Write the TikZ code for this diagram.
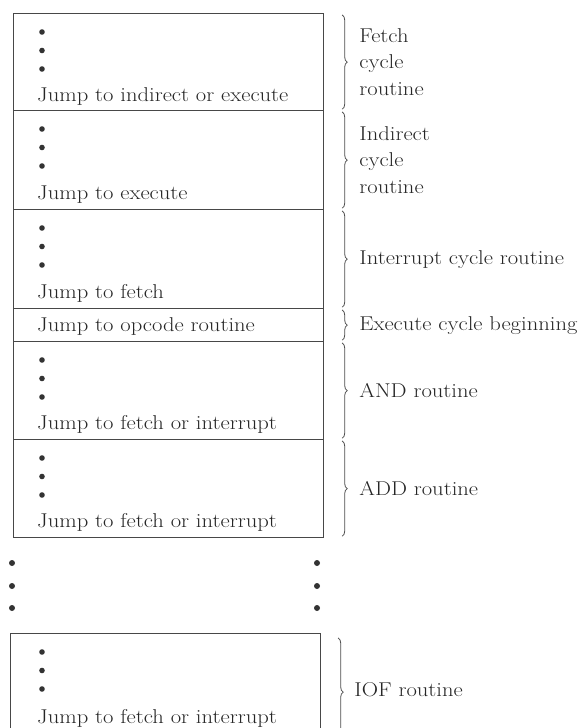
\documentclass[tikz,border=0pt]{standalone}
\usetikzlibrary{decorations.pathreplacing}
\newcommand\hstr[1]{\scalebox{1.13}[1]{#1}}
\begin{document}
\begin{tikzpicture}[x=1pt,y=-1pt,
  box/.style={draw=black!72, line width=1.2pt, anchor=north west, inner sep=0pt, minimum width=310pt},
  jmp/.style={anchor=base west, inner sep=0pt, font=\fontsize{20}{22}\selectfont, text=black!85},
  lbl/.style={anchor=west, inner sep=0pt, align=left, font=\fontsize{20}{26.5}\selectfont, text=black!85},
  brc/.style={draw=black!70, line width=0.8pt, decorate, decoration={brace, amplitude=5pt, aspect=0.5}},
  dotf/.style={fill=black!80}]
\useasboundingbox (0,0) rectangle (587,728);
\clip (0,0) rectangle (587,728);
% boxes
\node[box, minimum height=97pt] (fetch) at (13,13) {};
\node[box, minimum height=99pt] (indir) at (13,110) {};
\node[box, minimum height=99pt] (intr) at (13,209) {};
\node[box, minimum height=33pt] (exec) at (13,308) {};
\node[box, minimum height=98pt] (andr) at (13,341) {};
\node[box, minimum height=98pt] (addr) at (13,439) {};
\node[box, minimum height=100pt] (iof) at (10,633) {};
% dots and texts inside
\foreach \n/\t in {fetch/13, indir/110, intr/209, andr/341, addr/439, iof/633}{
  \foreach \d in {19,37.5,56}{\fill[dotf] (42,\t+\d) circle (2.8);}
}
\node[jmp] (tfetch) at (37,101) {\hstr{Jump to indirect or execute}};
\node[jmp] (tindir) at (37,199) {\hstr{Jump to execute}};
\node[jmp] (tintr) at (37,298) {\hstr{Jump to fetch}};
\node[jmp] (texec) at (37,331) {\hstr{Jump to opcode routine}};
\node[jmp] (tand) at (37,429) {\hstr{Jump to fetch or interrupt}};
\node[jmp] (tadd) at (37,527) {\hstr{Jump to fetch or interrupt}};
\node[jmp] (tiof) at (37,723) {\hstr{Jump to fetch or interrupt}};
% dots between
\foreach \y in {563,586,608}{\fill[dotf] (12,\y) circle (3); \fill[dotf] (317,\y) circle (3);}
% braces
\draw[brc] ([shift={(18,2)}]fetch.north east) -- ([shift={(18,-2)}]fetch.south east);
\draw[brc] ([shift={(18,2)}]indir.north east) -- ([shift={(18,-2)}]indir.south east);
\draw[brc] ([shift={(18,2)}]intr.north east) -- ([shift={(18,-2)}]intr.south east);
\draw[brc] ([shift={(18,2)}]exec.north east) -- ([shift={(18,-2)}]exec.south east);
\draw[brc] ([shift={(18,2)}]andr.north east) -- ([shift={(18,-2)}]andr.south east);
\draw[brc] ([shift={(18,2)}]addr.north east) -- ([shift={(18,-2)}]addr.south east);
\draw[brc] ([shift={(17,5)}]iof.north east) -- ([shift={(17,12)}]iof.south east);
% labels
\node[lbl] (lfetch) at ([xshift=35pt]fetch.east) {\hstr{Fetch}\\\hstr{cycle}\\\hstr{routine}};
\node[lbl] (lindir) at ([xshift=35pt]indir.east) {\hstr{Indirect}\\\hstr{cycle}\\\hstr{routine}};
\node[lbl] (lintr) at ([xshift=35pt]intr.east) {\hstr{Interrupt cycle routine}};
\node[lbl] (lexec) at ([xshift=35pt]exec.east) {\hstr{Execute cycle beginning}};
\node[lbl] (land) at ([xshift=35pt]andr.east) {\hstr{AND routine}};
\node[lbl] (ladd) at ([xshift=35pt]addr.east) {\hstr{ADD routine}};
\node[lbl] (liof) at ([xshift=33pt,yshift=-6pt]iof.east) {\hstr{IOF routine}};
\end{tikzpicture}
\end{document}
